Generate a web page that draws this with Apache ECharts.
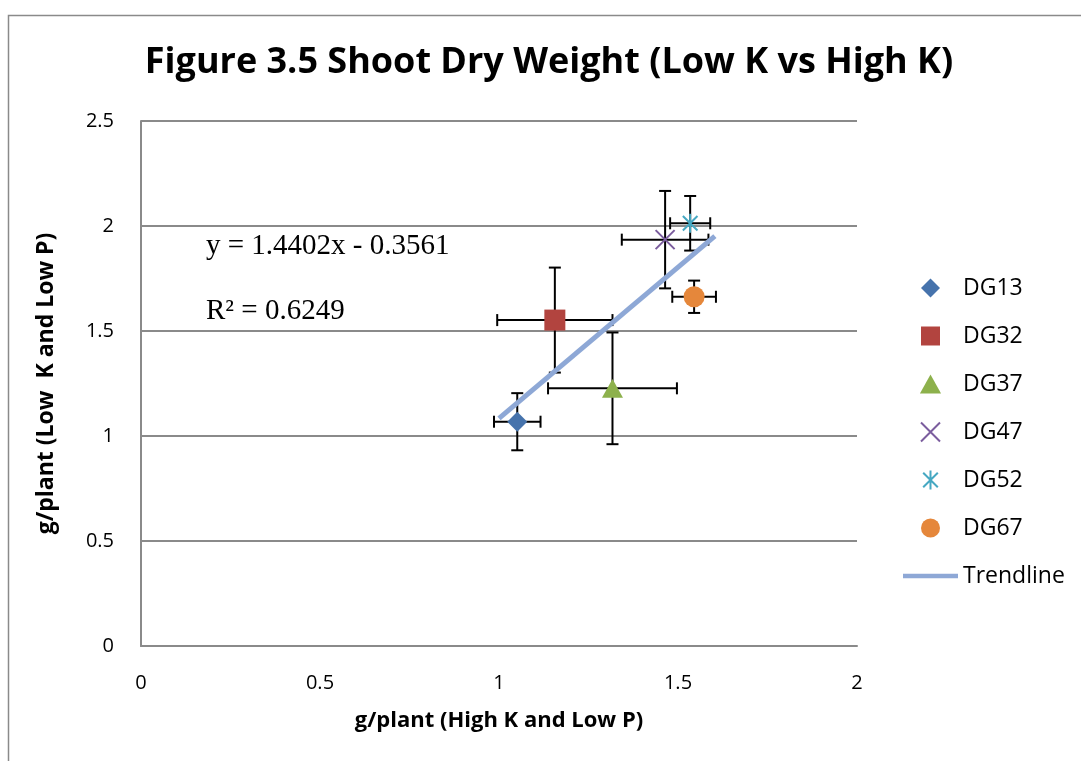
<!DOCTYPE html>
<html>
<head>
<meta charset="utf-8">
<script src="https://cdn.jsdelivr.net/npm/echarts@6/dist/echarts.min.js"></script>
<style>
html,body{margin:0;padding:0;background:#fff;}
#chart{width:1081px;height:761px;}
</style>
</head>
<body>
<div id="chart"></div>
<script>
var categories = ['DG13', 'DG32', 'DG37', 'DG47', 'DG52', 'DG67'];
var xValues = [1.051, 1.156, 1.317, 1.464, 1.534, 1.545];
var yValues = [1.068, 1.552, 1.227, 1.935, 2.013, 1.663];
var xErrors = [0.065, 0.161, 0.180, 0.121, 0.056, 0.061];
var yErrors = [0.136, 0.250, 0.266, 0.232, 0.130, 0.077];
var trendX = [1.0, 1.603];
var trendY = [1.084, 1.952];
var xTicks = [0, 0.5, 1, 1.5, 2];
var yTicks = [0, 0.5, 1, 1.5, 2, 2.5];
var equationText = 'y = 1.4402x - 0.3561';
var r2Text = 'R\u00b2 = 0.6249';

var colors = ['#4673AC', '#B2443F', '#8DB14C', '#7B5D9E', '#46A8C2', '#E5873B'];
var symbols = [
  'path://M5,0L10,5L5,10L0,5Z',
  'path://M0,0L10,0L10,10L0,10Z',
  'path://M5,0L10,9L0,9Z',
  'path://M0,0L10,10M10,0L0,10',
  'path://M0,0L10,10M10,0L0,10M5,-1.5L5,11.5',
  'circle'
];
var sizes = [20, 21, 21, 19, 19, 21];

var chart = echarts.init(document.getElementById('chart'));

var series = [];
series.push({
  name: 'errorbars',
  type: 'custom',
  z: 1,
  silent: true,
  data: categories.map(function (c, i) { return [xValues[i], yValues[i], xErrors[i], yErrors[i]]; }),
  renderItem: function (params, api) {
    var x = api.value(0), y = api.value(1), ex = api.value(2), ey = api.value(3);
    var l = api.coord([x - ex, y]), r = api.coord([x + ex, y]);
    var t = api.coord([x, y + ey]), b = api.coord([x, y - ey]);
    var cap = 6;
    var st = { stroke: '#000', lineWidth: 2 };
    return {
      type: 'group',
      children: [
        { type: 'line', shape: { x1: l[0], y1: l[1], x2: r[0], y2: r[1] }, style: st },
        { type: 'line', shape: { x1: l[0], y1: l[1] - cap, x2: l[0], y2: l[1] + cap }, style: st },
        { type: 'line', shape: { x1: r[0], y1: r[1] - cap, x2: r[0], y2: r[1] + cap }, style: st },
        { type: 'line', shape: { x1: t[0], y1: t[1], x2: b[0], y2: b[1] }, style: st },
        { type: 'line', shape: { x1: t[0] - cap, y1: t[1], x2: t[0] + cap, y2: t[1] }, style: st },
        { type: 'line', shape: { x1: b[0] - cap, y1: b[1], x2: b[0] + cap, y2: b[1] }, style: st }
      ]
    };
  }
});

series.push({
  name: 'Trendline',
  type: 'line',
  z: 2,
  symbol: 'none',
  showSymbol: false,
  silent: true,
  data: trendX.map(function (x, i) { return [x, trendY[i]]; }),
  lineStyle: { color: '#8EA8D6', width: 5 },
  itemStyle: { color: '#8EA8D6' }
});

categories.forEach(function (c, i) {
  var stroked = (i === 3 || i === 4);
  series.push({
    name: c,
    type: 'scatter',
    z: 3,
    symbol: symbols[i],
    symbolSize: sizes[i],
    symbolKeepAspect: true,
    silent: true,
    data: [[xValues[i], yValues[i]]],
    itemStyle: stroked
      ? { color: 'rgba(0,0,0,0)', borderColor: colors[i], borderWidth: 2, opacity: 1 }
      : { color: colors[i], opacity: 1 }
  });
});

var labelFont = "'Open Sans', sans-serif";
var legendData = categories.map(function (c) { return { name: c }; });
legendData.push({ name: 'Trendline', icon: 'path://M0,0L60,0L60,5L0,5Z', itemStyle: { color: '#8EA8D6' } });

chart.setOption({
  animation: false,
  backgroundColor: '#fff',
  title: {
    text: 'Figure 3.5 Shoot Dry Weight (Low K vs High K)',
    left: 549,
    textAlign: 'center',
    top: 45,
    padding: 0,
    textStyle: { fontFamily: labelFont, fontWeight: 'bold', fontSize: 36, color: '#000' }
  },
  legend: {
    orient: 'vertical',
    left: 903,
    top: 276,
    padding: 0,
    itemWidth: 55,
    itemHeight: 19,
    itemGap: 24,
    symbolKeepAspect: true,
    data: legendData,
    selectedMode: false,
    textStyle: { fontFamily: labelFont, fontSize: 23, color: '#000', lineHeight: 24, padding: [0, 0, 0, 0] }
  },
  grid: { left: 141, right: 224, top: 121, bottom: 115, containLabel: false },
  xAxis: {
    type: 'value',
    min: xTicks[0], max: xTicks[xTicks.length - 1], interval: 0.5,
    name: 'g/plant (High K and Low P)',
    nameLocation: 'middle',
    nameGap: 64,
    nameTextStyle: { fontFamily: labelFont, fontWeight: 'bold', fontSize: 22, color: '#000' },
    axisLine: { show: true, lineStyle: { color: '#8a8a8a', width: 2 } },
    axisTick: { show: false },
    splitLine: { show: false },
    axisLabel: { margin: 27, fontFamily: labelFont, fontSize: 20, color: '#000' }
  },
  yAxis: {
    type: 'value',
    min: yTicks[0], max: yTicks[yTicks.length - 1], interval: 0.5,
    name: 'g/plant (Low  K and Low P)',
    nameLocation: 'middle',
    nameGap: 83,
    nameTextStyle: { fontFamily: labelFont, fontWeight: 'bold', fontSize: 23, color: '#000' },
    axisLine: { show: true, lineStyle: { color: '#8a8a8a', width: 2 } },
    axisTick: { show: false },
    splitLine: { show: true, lineStyle: { color: '#8a8a8a', width: 2 } },
    axisLabel: { margin: 27, fontFamily: labelFont, fontSize: 20, color: '#000' }
  },
  graphic: [
    { type: 'rect', shape: { x: 8.5, y: 15.5, width: 1200, height: 900 }, style: { fill: 'none', stroke: '#8a8a8a', lineWidth: 1.5 }, z: -1, silent: true },
    { type: 'text', left: 206, top: 232, style: { text: equationText, fontFamily: "'Liberation Serif', serif", fontSize: 29, fill: '#000' } },
    { type: 'text', left: 206, top: 297, style: { text: r2Text, fontFamily: "'Liberation Serif', serif", fontSize: 29, fill: '#000' } }
  ],
  series: series
});
</script>
</body>
</html>
